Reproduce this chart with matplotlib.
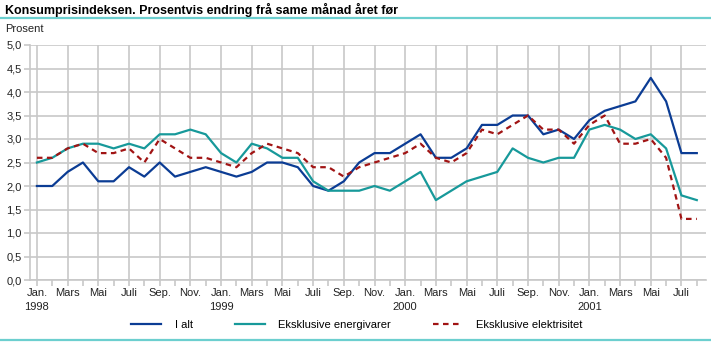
import numpy as np
import matplotlib
matplotlib.use("Agg")
from matplotlib import pyplot as plt
from matplotlib.lines import Line2D

plt.rcParams['font.family'] = ['Liberation Sans', 'DejaVu Sans']

# data: monthly, Jan 1998 - Aug 2001
i_alt = [2.0, 2.0, 2.3, 2.5, 2.1, 2.1, 2.4, 2.2, 2.5, 2.2, 2.3, 2.4,
         2.3, 2.2, 2.3, 2.5, 2.5, 2.4, 2.0, 1.9, 2.1, 2.5, 2.7, 2.7,
         2.9, 3.1, 2.6, 2.6, 2.8, 3.3, 3.3, 3.5, 3.5, 3.1, 3.2, 3.0,
         3.4, 3.6, 3.7, 3.8, 4.3, 3.8, 2.7, 2.7]
ekskl_energi = [2.5, 2.6, 2.8, 2.9, 2.9, 2.8, 2.9, 2.8, 3.1, 3.1, 3.2, 3.1,
                2.7, 2.5, 2.9, 2.8, 2.6, 2.6, 2.1, 1.9, 1.9, 1.9, 2.0, 1.9,
                2.1, 2.3, 1.7, 1.9, 2.1, 2.2, 2.3, 2.8, 2.6, 2.5, 2.6, 2.6,
                3.2, 3.3, 3.2, 3.0, 3.1, 2.8, 1.8, 1.7]
ekskl_el = [2.6, 2.6, 2.8, 2.9, 2.7, 2.7, 2.8, 2.5, 3.0, 2.8, 2.6, 2.6,
            2.5, 2.4, 2.7, 2.9, 2.8, 2.7, 2.4, 2.4, 2.2, 2.4, 2.5, 2.6,
            2.7, 2.9, 2.6, 2.5, 2.7, 3.2, 3.1, 3.3, 3.5, 3.2, 3.2, 2.9,
            3.3, 3.5, 2.9, 2.9, 3.0, 2.6, 1.3, 1.3]
month_names = ['Jan.', 'Mars', 'Mai', 'Juli', 'Sep.', 'Nov.']
years = ['1998', '1999', '2000', '2001']

x = np.arange(len(i_alt))

W, H = 711, 343
fig = plt.figure(figsize=(W / 100, H / 100), dpi=100)
ax = fig.add_axes([30 / W, (H - 280) / H, (706 - 30) / W, (280 - 45) / H])

grid_col = '#c8c8c8'
ax.plot(x, i_alt, color='#0b3c94', lw=1.6, label='I alt', zorder=3)
ax.plot(x, ekskl_energi, color='#17999a', lw=1.6, label='Eksklusive energivarer', zorder=3)
ax.plot(x, ekskl_el, color='#a11414', lw=1.6, ls=(0, (2.5, 2)), label='Eksklusive elektrisitet', zorder=4)

ax.set_xlim(-0.45, 43.6)
ax.set_ylim(0, 5)
ax.set_yticks(np.arange(0, 5.01, 0.5))
ax.set_yticklabels([f'{v:.1f}'.replace('.', ',') for v in np.arange(0, 5.01, 0.5)])

# month labels every second month, year under each January
major = np.arange(0, len(x), 2)
labels = []
for m in major:
    lab = month_names[(m % 12) // 2]
    if m % 12 == 0:
        lab += '\n' + years[m // 12]
    labels.append(lab)
ax.set_xticks(major)
ax.set_xticklabels(labels, ha='center', va='top', linespacing=1.5)
ax.set_xticks(np.arange(1, len(x), 2), minor=True)

ax.grid(True, which='major', color=grid_col, lw=1.2)
ax.set_axisbelow(True)
for s in ['top', 'right']:
    ax.spines[s].set_visible(False)
for s in ['left', 'bottom']:
    ax.spines[s].set_color(grid_col)
    ax.spines[s].set_linewidth(1.2)
ax.tick_params(which='both', color=grid_col, length=4, width=1.2, labelsize=8, pad=2, labelcolor='#222222')

fig.text(5 / W, 1 - 10 / H, 'Konsumprisindeksen. Prosentvis endring frå same månad året før',
         fontsize=9, fontweight='bold', va='center', ha='left')
fig.text(5 / W, 1 - 29 / H, 'Prosent', fontsize=8, va='center', ha='left', color='#222222')

rule_col = '#6ccfcf'
fig.add_artist(Line2D([0, 1], [1 - 18 / H, 1 - 18 / H], color=rule_col, lw=1.6))
fig.add_artist(Line2D([0, 1], [1 - 340 / H, 1 - 340 / H], color=rule_col, lw=1.6))

fig.legend(loc='center', bbox_to_anchor=(357 / W, 1 - 325 / H), ncol=3, frameon=False,
           fontsize=8, handlelength=2.7, columnspacing=3.8, handletextpad=1.2)

fig.savefig('out.png', dpi=100)
